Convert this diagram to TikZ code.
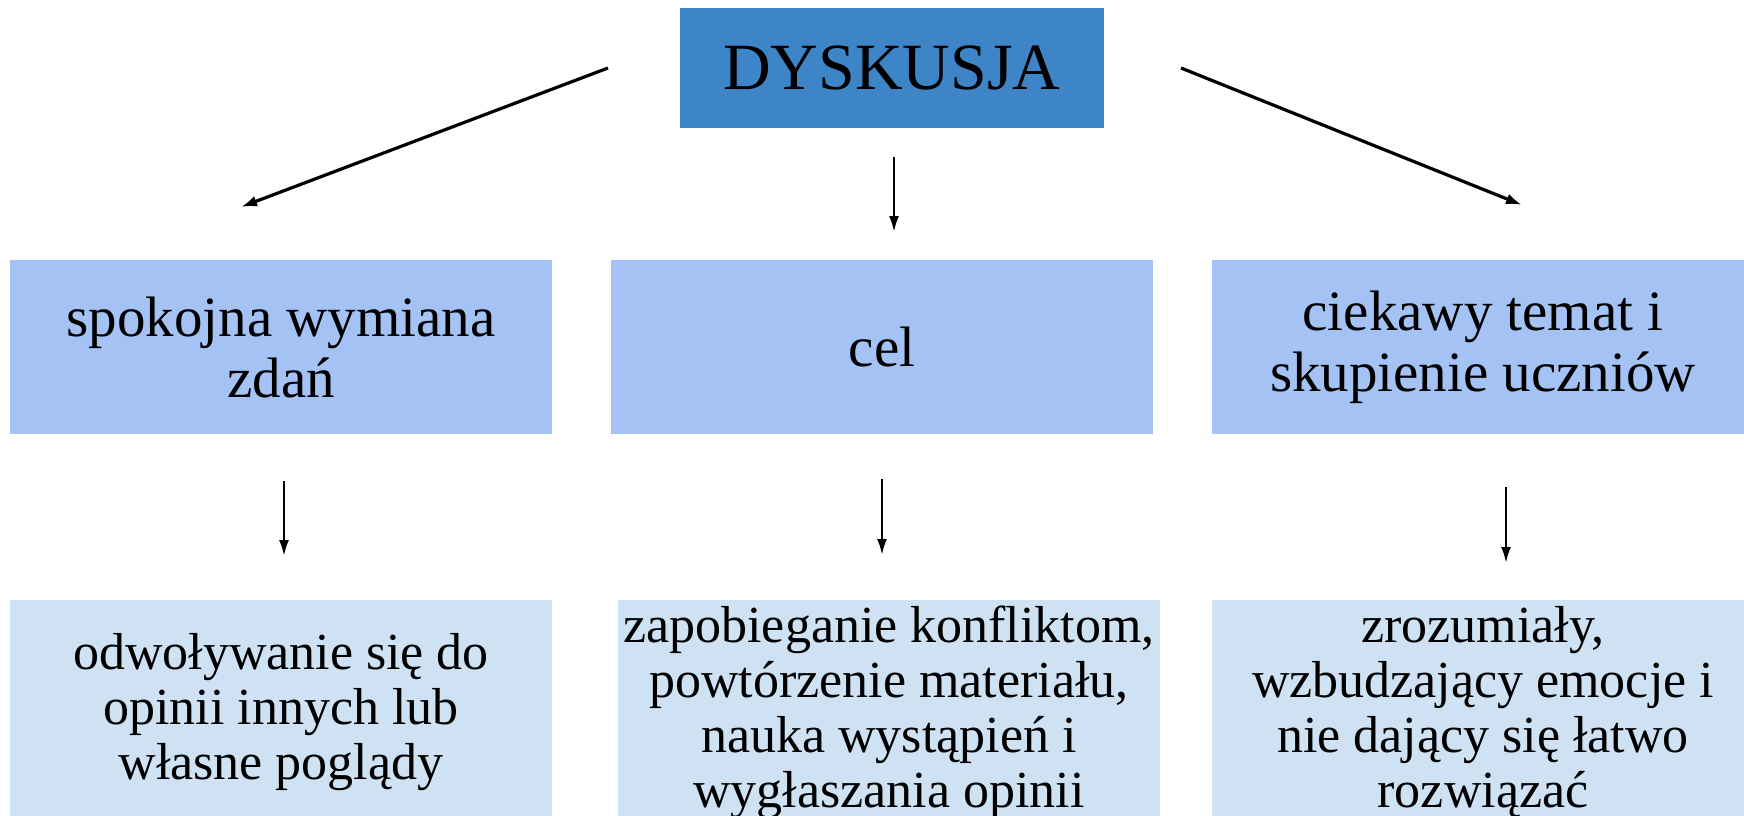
\documentclass[tikz,border=0pt]{standalone}
\usepackage{fontspec}
\setmainfont{Liberation Serif}
\usetikzlibrary{arrows.meta}
\definecolor{topblue}{HTML}{3D85C6}
\definecolor{midblue}{HTML}{A4C2F4}
\definecolor{lowblue}{HTML}{CFE2F3}
\begin{document}
\begin{tikzpicture}[x=0.5pt,y=-0.5pt,
  box/.style={inner sep=0pt, align=center, text=black},
  topbox/.style={box, fill=topblue, minimum width=212pt, minimum height=60pt, font=\fontsize{33}{36}\selectfont},
  midbox/.style={box, fill=midblue, minimum width=271pt, minimum height=87pt, font=\fontsize{28.5}{30.5}\selectfont},
  lowbox/.style={box, fill=lowblue, minimum width=271pt, minimum height=112pt, font=\fontsize{26}{27.5}\selectfont},
  bigarrow/.style={-{Latex[length=8pt,width=5.5pt]}, line width=1.6pt},
  smallarrow/.style={-{Latex[length=8pt,width=5pt]}, line width=1.2pt}]
\useasboundingbox (0,0) rectangle (1744,815);
\fill[white] (0,0) rectangle (1744,815);
% boxes
\node[topbox] (top) at (892,68) {DYSKUSJA};
\node[midbox] (a1) at (281,347) {spokojna wymiana\\zdań};
\node[midbox] (a2) at (882,347) {cel};
\node[midbox] (a3) at (1483,347) {ciekawy temat i\\skupienie uczniów};
\node[lowbox] (b1) at (281,712) {odwoływanie się do\\opinii innych lub\\własne poglądy};
\node[lowbox] (b2) at (889,712) {zapobieganie konfliktom,\\powtórzenie materiału,\\nauka wystąpień i\\wygłaszania opinii};
\node[lowbox] (b3) at (1483,712) {zrozumiały,\\wzbudzający emocje i\\nie dający się łatwo\\rozwiązać};
% free connector ends
\coordinate (ls) at (608,68);
\coordinate (le) at (241,207);
\coordinate (cs) at (894,157);
\coordinate (ce) at (894,232);
\coordinate (rs) at (1181,68);
\coordinate (re) at (1522,205);
\coordinate (v1s) at (284,481);
\coordinate (v1e) at (284,556);
\coordinate (v2s) at (882,479);
\coordinate (v2e) at (882,555);
\coordinate (v3s) at (1506,487);
\coordinate (v3e) at (1506,563);
% connectors
\draw[bigarrow] (ls) -- (le);
\draw[smallarrow] (cs) -- (ce);
\draw[bigarrow] (rs) -- (re);
\draw[smallarrow] (v1s) -- (v1e);
\draw[smallarrow] (v2s) -- (v2e);
\draw[smallarrow] (v3s) -- (v3e);
\end{tikzpicture}
\end{document}
